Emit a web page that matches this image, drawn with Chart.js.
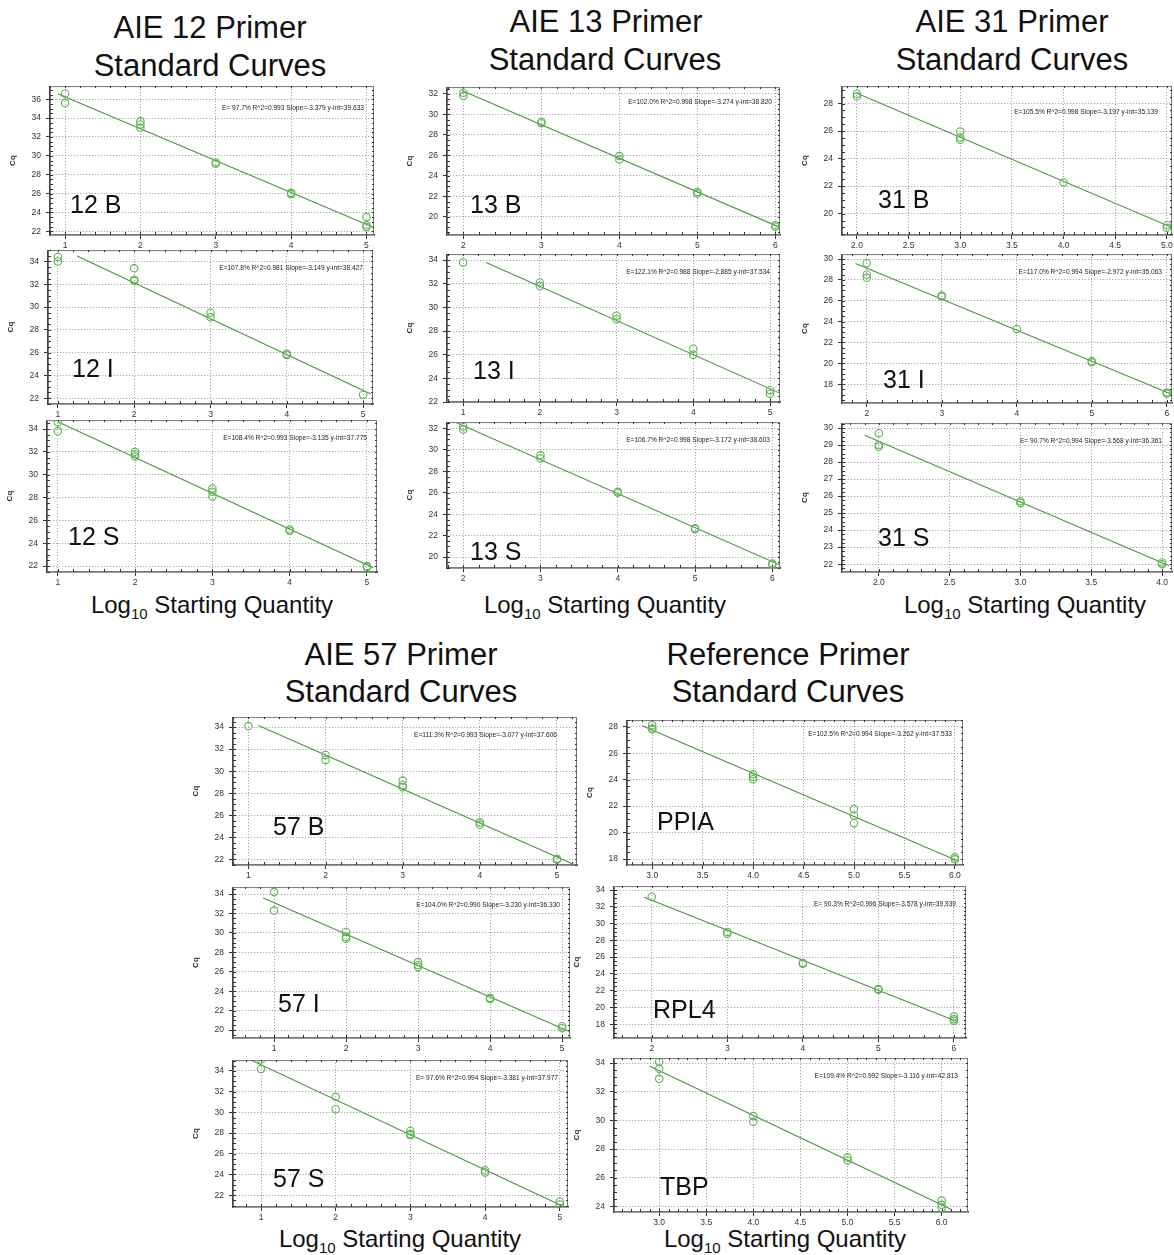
<!DOCTYPE html>
<html><head><meta charset="utf-8">
<script src="https://cdn.jsdelivr.net/npm/chart.js@4"></script>
<style>
body{margin:0;background:#fff;width:1174px;height:1255px;position:relative;overflow:hidden;font-family:"Liberation Sans",Arial,sans-serif;color:#111;}
.t{position:absolute;transform:translateX(-50%);white-space:nowrap;font-size:31px;line-height:32px;}
.xl{position:absolute;transform:translateX(-50%);white-space:nowrap;font-size:24px;line-height:26px;}
.xl sub{font-size:15px;vertical-align:-6px;line-height:0;}
canvas{position:absolute;}
</style></head><body>
<div class="t" style="left:210px;top:12px">AIE 12 Primer</div>
<div class="t" style="left:210px;top:50px">Standard Curves</div>
<div class="t" style="left:606px;top:6px">AIE 13 Primer</div>
<div class="t" style="left:605px;top:44px">Standard Curves</div>
<div class="t" style="left:1012px;top:6px">AIE 31 Primer</div>
<div class="t" style="left:1012px;top:44px">Standard Curves</div>
<div class="t" style="left:401px;top:639px">AIE 57 Primer</div>
<div class="t" style="left:401px;top:676px">Standard Curves</div>
<div class="t" style="left:788px;top:639px">Reference Primer</div>
<div class="t" style="left:788px;top:676px">Standard Curves</div>
<div class="xl" style="left:212px;top:592px">Log<sub>10</sub> Starting Quantity</div>
<div class="xl" style="left:605px;top:592px">Log<sub>10</sub> Starting Quantity</div>
<div class="xl" style="left:1025px;top:592px">Log<sub>10</sub> Starting Quantity</div>
<div class="xl" style="left:400px;top:1226px">Log<sub>10</sub> Starting Quantity</div>
<div class="xl" style="left:785px;top:1226px">Log<sub>10</sub> Starting Quantity</div>
<script>
// ---------------- DATA (Log10 starting quantity vs Cq) ----------------
const aie12B_logQ = [1,1,2,2,2,3,3,4,4,5,5,5];
const aie12B_cq   = [36.6,35.6,33.66,33.33,32.97,29.3,29.15,26.07,25.93,23.5,22.63,22.46];
const aie12B_fitLogQ = [0.91,5.09];
const aie12B_fitCq   = [36.56,22.43];
const aie12B_stats = "E= 97.7% R^2=0.993 Slope=-3.379 y-int=39.633";

const aie12I_logQ = [1,1,2,2,2,3,3,4,4,5];
const aie12I_cq   = [34.4,34.0,33.4,32.4,32.3,29.5,29.1,25.9,25.8,22.3];
const aie12I_fitLogQ = [1.25,5.1];
const aie12I_fitCq   = [34.49,22.37];
const aie12I_stats = "E=107.8% R^2=0.981 Slope=-3.149 y-int=38.427";

const aie12S_logQ = [1,1,2,2,2,3,3,3,4,4,5,5];
const aie12S_cq   = [34.6,33.8,32.0,31.8,31.6,28.8,28.5,28.1,25.2,25.1,22.0,21.9];
const aie12S_fitLogQ = [1.0,5.08];
const aie12S_fitCq   = [34.64,21.85];
const aie12S_stats = "E=108.4% R^2=0.993 Slope=-3.135 y-int=37.775";

const aie13B_logQ = [2,2,3,3,4,4,5,5,6,6];
const aie13B_cq   = [32.13,31.8,29.3,29.15,25.94,25.6,22.44,22.28,19.2,19.05];
const aie13B_fitLogQ = [1.98,6.06];
const aie13B_fitCq   = [32.34,18.98];
const aie13B_stats = "E=102.0% R^2=0.998 Slope=-3.274 y-int=38.820";

const aie13I_logQ = [1,2,2,3,3,4,4,5,5];
const aie13I_cq   = [33.8,32.1,31.8,29.3,29.0,26.5,26.0,23.0,22.7];
const aie13I_fitLogQ = [1.3,5.15];
const aie13I_fitCq   = [33.78,22.68];
const aie13I_stats = "E=122.1% R^2=0.988 Slope=-2.885 y-int=37.534";

const aie13S_logQ = [2,2,3,3,4,4,5,5,6,6];
const aie13S_cq   = [32.2,31.9,29.5,29.2,26.1,26.0,22.7,22.6,19.4,19.3];
const aie13S_fitLogQ = [1.9,6.1];
const aie13S_fitCq   = [32.58,19.25];
const aie13S_stats = "E=106.7% R^2=0.998 Slope=-3.172 y-int=38.603";

const aie31B_logQ = [2,2,3,3,3,4,5,5];
const aie31B_cq   = [28.72,28.53,25.97,25.54,25.38,22.27,19.16,18.97];
const aie31B_fitLogQ = [2.0,5.05];
const aie31B_fitCq   = [28.75,18.99];
const aie31B_stats = "E=105.5% R^2=0.998 Slope=-3.197 y-int=35.139";

const aie31I_logQ = [2,2,2,3,3,4,5,5,6,6];
const aie31I_cq   = [29.6,28.5,28.2,26.5,26.4,23.3,20.2,20.1,17.2,17.1];
const aie31I_fitLogQ = [1.85,6.05];
const aie31I_fitCq   = [29.56,17.08];
const aie31I_stats = "E=117.0% R^2=0.994 Slope=-2.972 y-int=35.063";

const aie31S_logQ = [2,2,2,3,3,4,4];
const aie31S_cq   = [29.7,29.0,28.9,25.7,25.6,22.1,22.0];
const aie31S_fitLogQ = [1.9,4.05];
const aie31S_fitCq   = [29.58,21.91];
const aie31S_stats = "E= 90.7% R^2=0.994 Slope=-3.568 y-int=36.361";

const aie57B_logQ = [1,2,2,3,3,3,4,4,5,5];
const aie57B_cq   = [34.09,31.47,31.02,29.15,28.73,28.55,25.34,25.14,22.06,21.97];
const aie57B_fitLogQ = [1.13,5.27];
const aie57B_fitCq   = [34.13,21.39];
const aie57B_stats = "E=111.3% R^2=0.993 Slope=-3.077 y-int=37.606";

const aie57I_logQ = [1,1,2,2,2,3,3,3,4,4,5,5];
const aie57I_cq   = [34.2,32.3,30.1,29.6,29.4,27.0,26.7,26.5,23.3,23.2,20.4,20.2];
const aie57I_fitLogQ = [0.85,5.1];
const aie57I_fitCq   = [33.58,19.86];
const aie57I_stats = "E=104.0% R^2=0.990 Slope=-3.230 y-int=36.330";

const aie57S_logQ = [1,1,2,2,3,3,3,4,4,5,5];
const aie57S_cq   = [35.1,34.2,31.5,30.3,28.2,27.9,27.8,24.4,24.2,21.4,21.1];
const aie57S_fitLogQ = [0.85,5.1];
const aie57S_fitCq   = [35.1,20.73];
const aie57S_stats = "E= 97.6% R^2=0.994 Slope=-3.381 y-int=37.977";

const ppia_logQ = [3,3,3,4,4,4,5,5,5,6,6];
const ppia_cq   = [28.12,27.87,27.8,24.4,24.2,24.03,21.78,21.28,20.71,18.13,17.98];
const ppia_fitLogQ = [2.9,6.03];
const ppia_fitCq   = [28.07,17.86];
const ppia_stats = "E=102.5% R^2=0.994 Slope=-3.262 y-int=37.533";

const rpl4_logQ = [2,3,3,4,4,5,5,6,6,6];
const rpl4_cq   = [33.2,29.0,28.8,25.3,25.2,22.2,22.1,18.9,18.6,18.4];
const rpl4_fitLogQ = [1.9,6.05];
const rpl4_fitCq   = [33.14,18.29];
const rpl4_stats = "E= 90.3% R^2=0.996 Slope=-3.578 y-int=39.939";

const tbp_logQ = [3,3,3,4,4,5,5,6,6,6];
const tbp_cq   = [34.1,33.6,32.9,30.3,29.9,27.4,27.2,24.4,24.1,23.9];
const tbp_fitLogQ = [2.9,6.1];
const tbp_fitCq   = [33.78,23.8];
const tbp_stats = "E=109.4% R^2=0.992 Slope=-3.116 y-int=42.813";

const panelNames = ["12 B","12 I","12 S","13 B","13 I","13 S","31 B","31 I","31 S","57 B","57 I","57 S","PPIA","RPL4","TBP"];

// ---------------- LAYOUT (page pixels / axis ranges) ----------------
const panels = [
 {name:panelNames[0],  xs:aie12B_logQ, ys:aie12B_cq, fx:aie12B_fitLogQ, fy:aie12B_fitCq, st:aie12B_stats, box:[50,84,374,235],  xr:[0.8,5.1,1],    yr:[21.6,37.4,2],  lab:[20,22], eq:[10,24]},
 {name:panelNames[1],  xs:aie12I_logQ, ys:aie12I_cq, fx:aie12I_fitLogQ, fy:aie12I_fitCq, st:aie12I_stats, box:[48,248,373,404], xr:[0.87,5.13,1],  yr:[21.49,35.0,2], lab:[24,27], eq:[10,20]},
 {name:panelNames[2],  xs:aie12S_logQ, ys:aie12S_cq, fx:aie12S_fitLogQ, fy:aie12S_fitCq, st:aie12S_stats, box:[47,418,377,572], xr:[0.86,5.13,1],  yr:[21.48,34.78,2],lab:[21,27], eq:[10,20]},
 {name:panelNames[3],  xs:aie13B_logQ, ys:aie13B_cq, fx:aie13B_fitLogQ, fy:aie13B_fitCq, st:aie13B_stats, box:[447,85,780,235], xr:[1.79,6.06,1],  yr:[18.24,32.67,2],lab:[23,22], eq:[8,17]},
 {name:panelNames[4],  xs:aie13I_logQ, ys:aie13I_cq, fx:aie13I_fitLogQ, fy:aie13I_fitCq, st:aie13I_stats, box:[447,252,780,402],xr:[0.79,5.13,1],  yr:[22.0,34.5,2],  lab:[26,23], eq:[10,20]},
 {name:panelNames[5],  xs:aie13S_logQ, ys:aie13S_cq, fx:aie13S_fitLogQ, fy:aie13S_fitCq, st:aie13S_stats, box:[447,420,780,568],xr:[1.79,6.1,1],   yr:[18.98,32.6,2], lab:[23,8],  eq:[10,20]},
 {name:panelNames[6],  xs:aie31B_logQ, ys:aie31B_cq, fx:aie31B_fitLogQ, fy:aie31B_fitCq, st:aie31B_stats, box:[842,84,1172,235],xr:[1.855,5.05,0.5],yr:[18.45,29.27,2],lab:[36,27], eq:[14,28]},
 {name:panelNames[7],  xs:aie31I_logQ, ys:aie31I_cq, fx:aie31I_fitLogQ, fy:aie31I_fitCq, st:aie31I_stats, box:[842,252,1172,403],xr:[1.67,6.07,1], yr:[16.2,30.47,2], lab:[41,15], eq:[10,20]},
 {name:panelNames[8],  xs:aie31S_logQ, ys:aie31S_cq, fx:aie31S_fitLogQ, fy:aie31S_fitCq, st:aie31S_stats, box:[842,421,1172,572],xr:[1.74,4.07,0.5],yr:[21.54,30.29,1],lab:[36,26], eq:[10,20]},
 {name:panelNames[9],  xs:aie57B_logQ, ys:aie57B_cq, fx:aie57B_fitLogQ, fy:aie57B_fitCq, st:aie57B_stats, box:[233,715,577,865],xr:[0.8,5.26,1],   yr:[21.5,34.9,2],  lab:[40,30], eq:[20,20]},
 {name:panelNames[10], xs:aie57I_logQ, ys:aie57I_cq, fx:aie57I_fitLogQ, fy:aie57I_fitCq, st:aie57I_stats, box:[233,885,570,1038],xr:[0.43,5.11,1], yr:[19.19,34.71,2],lab:[45,26], eq:[10,20]},
 {name:panelNames[11], xs:aie57S_logQ, ys:aie57S_cq, fx:aie57S_fitLogQ, fy:aie57S_fitCq, st:aie57S_stats, box:[233,1058,568,1207],xr:[0.625,5.11,1],yr:[20.86,35.05,2],lab:[40,20], eq:[10,20]},
 {name:panelNames[12], xs:ppia_logQ,   ys:ppia_cq,   fx:ppia_fitLogQ,   fy:ppia_fitCq,   st:ppia_stats,   box:[627,718,963,865],xr:[2.75,6.08,0.5],yr:[17.55,28.5,2], lab:[30,35], eq:[11,16]},
 {name:panelNames[13], xs:rpl4_logQ,   ys:rpl4_cq,   fx:rpl4_fitLogQ,   fy:rpl4_fitCq,   st:rpl4_stats,   box:[614,884,966,1038],xr:[1.5,6.16,1],   yr:[16.35,34.47,2],lab:[39,20], eq:[10,20]},
 {name:panelNames[14], xs:tbp_logQ,    ys:tbp_cq,    fx:tbp_fitLogQ,    fy:tbp_fitCq,    st:tbp_stats,    box:[614,1056,968,1212],xr:[2.52,6.28,0.5],yr:[23.6,34.35,2],lab:[46,17], eq:[10,20]},
];

const PADL = 42, PADT = 8, PADR = 8, PADB = 20;
const FONT = "'Liberation Sans', Arial, sans-serif";
const LINE_C = "rgb(74,148,66)";
const PT_C = "rgb(92,178,82)";
const GRID_C = "rgba(120,120,120,0.75)";

const decor = {
  id: 'decor',
  beforeDatasetsDraw(chart, args, o) {
    const {ctx, chartArea: a, scales: {x, y}} = chart;
    ctx.save();
    ctx.strokeStyle = '#777'; ctx.lineWidth = 1;
    ctx.strokeRect(a.left + 0.5, a.top + 0.5, a.width - 1, a.height - 1);
    ctx.strokeStyle = '#333'; ctx.lineWidth = 1;
    ctx.beginPath();
    const mx = o.mx, my = o.my;
    for (let k = Math.ceil(x.min / mx - 1e-9); k * mx <= x.max + 1e-9; k++) {
      const px = Math.round(x.getPixelForValue(k * mx)) + 0.5;
      ctx.moveTo(px, a.bottom); ctx.lineTo(px, a.bottom - 3);
      ctx.moveTo(px, a.top); ctx.lineTo(px, a.top + 2);
    }
    for (let k = Math.ceil(y.min / my - 1e-9); k * my <= y.max + 1e-9; k++) {
      const py = Math.round(y.getPixelForValue(k * my)) + 0.5;
      ctx.moveTo(a.left, py); ctx.lineTo(a.left + 3, py);
      ctx.moveTo(a.right, py); ctx.lineTo(a.right - 2, py);
    }
    ctx.stroke();
    ctx.restore();
  },
  afterDraw(chart, args, o) {
    const {ctx, chartArea: a} = chart;
    ctx.save();
    ctx.fillStyle = '#222';
    ctx.font = "6.6px " + FONT;
    ctx.textAlign = 'right'; ctx.textBaseline = 'alphabetic';
    ctx.fillText(o.stats, a.right - o.eq[0], a.top + o.eq[1]);
    ctx.fillStyle = '#111';
    ctx.font = "25px " + FONT;
    ctx.textAlign = 'left';
    ctx.fillText(o.name, a.left + o.lab[0], a.bottom - o.lab[1]);
    ctx.restore();
  }
};

function makeChart(p) {
  const [l, t, r, b] = p.box;
  const W = (r - l) + PADL + PADR, H = (b - t) + PADT + PADB;
  const cv = document.createElement('canvas');
  cv.width = W; cv.height = H;
  cv.style.left = (l - PADL) + 'px'; cv.style.top = (t - PADT) + 'px';
  cv.style.width = W + 'px'; cv.style.height = H + 'px';
  document.body.appendChild(cv);
  const pts = p.xs.map((v, i) => ({x: v, y: p.ys[i]}));
  const fit = p.fx.map((v, i) => ({x: v, y: p.fy[i]}));
  const keep = (st) => (s) => { s.ticks = s.ticks.filter(tk => Math.abs(tk.value / st - Math.round(tk.value / st)) < 1e-6 && tk.value >= s.min - 1e-9 && tk.value <= s.max + 1e-9); };
  const fmt = (st) => (v) => st < 1 ? Number(v).toFixed(1) : String(Math.round(v));
  const tickFont = {family: FONT, size: 8.5};
  new Chart(cv, {
    type: 'scatter',
    data: {datasets: [
      {type: 'line', data: fit, borderColor: LINE_C, borderWidth: 1.1, pointRadius: 0, fill: false, order: 2, tension: 0},
      {type: 'scatter', data: pts, pointRadius: 3.7, pointHoverRadius: 3.7, borderColor: PT_C, backgroundColor: 'rgba(255,255,255,0)', borderWidth: 1.1, order: 1}
    ]},
    options: {
      responsive: false, animation: false, devicePixelRatio: 1,
      layout: {padding: {left: 0, top: PADT, right: PADR, bottom: 0}},
      plugins: {
        legend: {display: false}, tooltip: {enabled: false},
        decor: {mx: p.xr[2] / 5, my: p.yr[2] / 4, stats: p.st, name: p.name, lab: p.lab, eq: p.eq}
      },
      scales: {
        x: {
          type: 'linear', min: p.xr[0], max: p.xr[1],
          ticks: {stepSize: p.xr[2], includeBounds: false, autoSkip: false, maxRotation: 0, font: tickFont, color: '#333', padding: 2, callback: fmt(p.xr[2])},
          afterBuildTicks: keep(p.xr[2]),
          afterFit: (s) => { s.height = PADB; },
          grid: {color: GRID_C, lineWidth: 1, tickLength: 4, tickColor: '#333', drawTicks: true},
          border: {display: true, color: '#333', width: 1.6, dash: [1, 2]}
        },
        y: {
          type: 'linear', min: p.yr[0], max: p.yr[1],
          ticks: {stepSize: p.yr[2], includeBounds: false, autoSkip: false, font: tickFont, color: '#333', padding: 5, callback: fmt(p.yr[2])},
          afterBuildTicks: keep(p.yr[2]),
          afterFit: (s) => { s.width = PADL; },
          title: {display: true, text: 'Cq', font: {family: FONT, size: 8, weight: 'bold'}, color: '#333', padding: 0},
          grid: {color: GRID_C, lineWidth: 1, tickLength: 4, tickColor: '#333', drawTicks: true},
          border: {display: true, color: '#444', width: 1.2, dash: [1, 2]}
        }
      }
    },
    plugins: [decor]
  });
}
panels.forEach(makeChart);
</script>
</body></html>
